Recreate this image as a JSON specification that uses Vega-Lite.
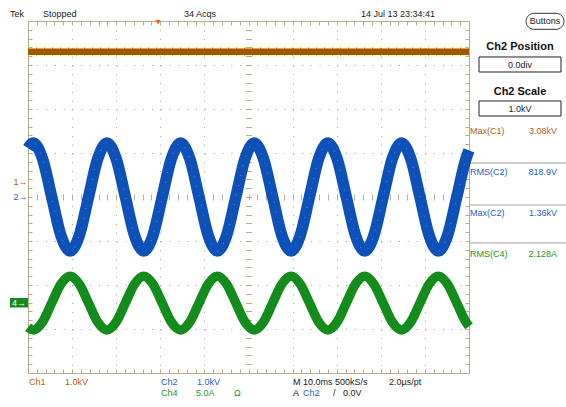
{
  "$schema": "https://vega.github.io/schema/vega-lite/v6.json",
  "width": 441,
  "height": 352,
  "autosize": {"type": "none"},
  "padding": {"left": 28, "top": 21, "right": 97, "bottom": 34},
  "background": "white",
  "config": {
    "view": {"stroke": "#b3ad8a", "strokeWidth": 1},
    "text": {"font": "Liberation Sans"},
    "axis": {"labels": false, "domain": false, "grid": false, "tickColor": "#b3ad8a", "tickWidth": 1}
  },
  "datasets": {
    "waves": [
      {"t": 0, "ch2": 1.11, "ch4": -2.96},
      {"t": 1.2, "ch2": 1.23, "ch4": -3.02},
      {"t": 3.29, "ch2": 0.87, "ch4": -2.84},
      {"t": 5.38, "ch2": 0, "ch4": -2.41},
      {"t": 7.46, "ch2": -0.87, "ch4": -1.98},
      {"t": 9.55, "ch2": -1.23, "ch4": -1.8},
      {"t": 11.64, "ch2": -0.87, "ch4": -1.98},
      {"t": 13.73, "ch2": 0, "ch4": -2.41},
      {"t": 15.81, "ch2": 0.87, "ch4": -2.84},
      {"t": 17.9, "ch2": 1.23, "ch4": -3.02},
      {"t": 19.99, "ch2": 0.87, "ch4": -2.84},
      {"t": 22.08, "ch2": 0, "ch4": -2.41},
      {"t": 24.16, "ch2": -0.87, "ch4": -1.98},
      {"t": 26.25, "ch2": -1.23, "ch4": -1.8},
      {"t": 28.34, "ch2": -0.87, "ch4": -1.98},
      {"t": 30.43, "ch2": 0, "ch4": -2.41},
      {"t": 32.51, "ch2": 0.87, "ch4": -2.84},
      {"t": 34.6, "ch2": 1.23, "ch4": -3.02},
      {"t": 36.69, "ch2": 0.87, "ch4": -2.84},
      {"t": 38.78, "ch2": 0, "ch4": -2.41},
      {"t": 40.86, "ch2": -0.87, "ch4": -1.98},
      {"t": 42.95, "ch2": -1.23, "ch4": -1.8},
      {"t": 45.04, "ch2": -0.87, "ch4": -1.98},
      {"t": 47.13, "ch2": 0, "ch4": -2.41},
      {"t": 49.21, "ch2": 0.87, "ch4": -2.84},
      {"t": 51.3, "ch2": 1.23, "ch4": -3.02},
      {"t": 53.39, "ch2": 0.87, "ch4": -2.84},
      {"t": 55.48, "ch2": 0, "ch4": -2.41},
      {"t": 57.56, "ch2": -0.87, "ch4": -1.98},
      {"t": 59.65, "ch2": -1.23, "ch4": -1.8},
      {"t": 61.74, "ch2": -0.87, "ch4": -1.98},
      {"t": 63.83, "ch2": 0, "ch4": -2.41},
      {"t": 65.91, "ch2": 0.87, "ch4": -2.84},
      {"t": 68.0, "ch2": 1.23, "ch4": -3.02},
      {"t": 70.09, "ch2": 0.87, "ch4": -2.84},
      {"t": 72.18, "ch2": 0, "ch4": -2.41},
      {"t": 74.26, "ch2": -0.87, "ch4": -1.98},
      {"t": 76.35, "ch2": -1.23, "ch4": -1.8},
      {"t": 78.44, "ch2": -0.87, "ch4": -1.98},
      {"t": 80.53, "ch2": 0, "ch4": -2.41},
      {"t": 82.61, "ch2": 0.87, "ch4": -2.84},
      {"t": 84.7, "ch2": 1.23, "ch4": -3.02},
      {"t": 86.79, "ch2": 0.87, "ch4": -2.84},
      {"t": 88.88, "ch2": 0, "ch4": -2.41},
      {"t": 90.96, "ch2": -0.87, "ch4": -1.98},
      {"t": 93.05, "ch2": -1.23, "ch4": -1.8},
      {"t": 95.14, "ch2": -0.87, "ch4": -1.98},
      {"t": 97.23, "ch2": 0, "ch4": -2.41},
      {"t": 99.31, "ch2": 0.87, "ch4": -2.84},
      {"t": 100, "ch2": 1.06, "ch4": -2.94}
    ],
    "ch1": [{"t": 0, "v": 3.3}, {"t": 100, "v": 3.3}],
    "seps": [{"v": 0.773}, {"v": -0.182}, {"v": -1.045}],
    "boxes": [
      {"t": 102.27, "t2": 120.86, "v": 3.182, "v2": 2.841},
      {"t": 102.27, "t2": 120.86, "v": 2.182, "v2": 1.841}
    ],
    "button": [{"t": 112.93, "t2": 121.54, "v": 4.175, "v2": 3.811}],
    "ch4box": [{"t": -4.08, "t2": 0, "v": -2.295, "v2": -2.511}],
    "trig": [{"t": 29.5, "v": 3.966}],
    "lblLeft": [
      {"text": "Tek", "t": -4.08, "v": 4.16, "g": "k"},
      {"text": "Stopped", "t": 3.4, "v": 4.16, "g": "k"},
      {"text": "34 Acqs", "t": 35.37, "v": 4.16, "g": "k"},
      {"text": "14 Jul 13 23:34:41", "t": 75.51, "v": 4.16, "g": "k"},
      {"text": "Ch1", "t": 0.23, "v": -4.205, "g": "o"},
      {"text": "1.0kV", "t": 8.39, "v": -4.205, "g": "o"},
      {"text": "Ch2", "t": 30.16, "v": -4.205, "g": "b"},
      {"text": "1.0kV", "t": 38.32, "v": -4.205, "g": "b"},
      {"text": "M 10.0ms 500kS/s", "t": 60.09, "v": -4.205, "g": "k"},
      {"text": "2.0µs/pt", "t": 81.86, "v": -4.205, "g": "k"},
      {"text": "Ch4", "t": 30.16, "v": -4.455, "g": "g"},
      {"text": "5.0A", "t": 38.1, "v": -4.455, "g": "g"},
      {"text": "Ω", "t": 46.71, "v": -4.455, "g": "g"},
      {"text": "A", "t": 60.09, "v": -4.455, "g": "k"},
      {"text": "Ch2", "t": 62.36, "v": -4.455, "g": "b"},
      {"text": "/", "t": 69.16, "v": -4.455, "g": "k"},
      {"text": "0.0V", "t": 71.43, "v": -4.455, "g": "k"},
      {"text": "Max(C1)", "t": 100.23, "v": 1.511, "g": "o"},
      {"text": "RMS(C2)", "t": 100.23, "v": 0.568, "g": "b"},
      {"text": "Max(C2)", "t": 100.23, "v": -0.364, "g": "b"},
      {"text": "RMS(C4)", "t": 100.23, "v": -1.295, "g": "g"}
    ],
    "lblRight": [
      {"text": "3.08kV", "t": 119.95, "v": 1.511, "g": "o"},
      {"text": "818.9V", "t": 119.95, "v": 0.568, "g": "b"},
      {"text": "1.36kV", "t": 119.95, "v": -0.364, "g": "b"},
      {"text": "2.128A", "t": 119.95, "v": -1.295, "g": "g"},
      {"text": "1→", "t": -0.11, "v": 0.334, "g": "o"},
      {"text": "2→", "t": -0.11, "v": 0, "g": "b"}
    ],
    "lblCenter": [
      {"text": "0.0div", "t": 111.56, "v": 3.0, "g": "k"},
      {"text": "1.0kV", "t": 111.56, "v": 2.0, "g": "k"},
      {"text": "Buttons", "t": 117.23, "v": 3.99, "g": "k"},
      {"text": "4→", "t": -2.04, "v": -2.41, "g": "w"}
    ],
    "lblBold": [
      {"text": "Ch2 Position", "t": 111.56, "v": 3.41},
      {"text": "Ch2 Scale", "t": 111.56, "v": 2.386}
    ]
  },
  "layer": [
    {
      "data": {"name": "ch1"},
      "mark": {"type": "point", "opacity": 0},
      "encoding": {
        "x": {"field": "t", "type": "quantitative", "scale": {"domain": [0, 100], "nice": false, "zero": false},
              "axis": {"orient": "bottom", "values": [10, 20, 30, 40, 60, 70, 80, 90], "grid": true, "ticks": false, "gridDash": [1, 7.8], "gridColor": "#a39f88", "gridWidth": 1, "title": null}},
        "y": {"field": "v", "type": "quantitative", "scale": {"domain": [-4, 4], "nice": false, "zero": false},
              "axis": {"orient": "left", "values": [-3, -2, -1, 1, 2, 3], "grid": true, "ticks": false, "gridDash": [1, 7.82], "gridColor": "#a39f88", "gridWidth": 1, "title": null}}
      }
    },
    {
      "data": {"name": "ch1"},
      "mark": {"type": "point", "opacity": 0},
      "encoding": {
        "x": {"field": "t", "type": "quantitative", "scale": {"domain": [0, 100], "nice": false, "zero": false},
              "axis": {"orient": "bottom", "offset": -352, "tickCount": 50, "tickSize": 4, "title": null}},
        "y": {"field": "v", "type": "quantitative", "scale": {"domain": [-4, 4], "nice": false, "zero": false},
              "axis": {"orient": "right", "offset": -441, "tickCount": 40, "tickSize": 4, "title": null}}
      }
    },
    {
      "data": {"name": "ch1"},
      "mark": {"type": "point", "opacity": 0},
      "encoding": {
        "x": {"field": "t", "type": "quantitative", "scale": {"domain": [0, 100], "nice": false, "zero": false},
              "axis": {"orient": "top", "offset": -352, "tickCount": 50, "tickSize": 4, "title": null}},
        "y": {"field": "v", "type": "quantitative", "scale": {"domain": [-4, 4], "nice": false, "zero": false},
              "axis": {"orient": "left", "offset": -441, "tickCount": 40, "tickSize": 4, "title": null}}
      }
    },
    {
      "data": {"name": "ch1"},
      "mark": {"type": "point", "opacity": 0},
      "encoding": {
        "x": {"field": "t", "type": "quantitative", "scale": {"domain": [0, 100], "nice": false, "zero": false},
              "axis": {"orient": "top", "offset": -176, "tickCount": 50, "tickSize": 3, "title": null}},
        "y": {"field": "v", "type": "quantitative", "scale": {"domain": [-4, 4], "nice": false, "zero": false},
              "axis": {"orient": "left", "offset": -220.5, "tickCount": 40, "tickSize": 3, "title": null}}
      }
    },
    {
      "data": {"name": "ch1"},
      "mark": {"type": "point", "opacity": 0},
      "encoding": {
        "x": {"field": "t", "type": "quantitative", "scale": {"domain": [0, 100], "nice": false, "zero": false},
              "axis": {"orient": "bottom", "offset": -176, "tickCount": 50, "tickSize": 3, "title": null}},
        "y": {"field": "v", "type": "quantitative", "scale": {"domain": [-4, 4], "nice": false, "zero": false},
              "axis": {"orient": "right", "offset": -220.5, "tickCount": 40, "tickSize": 3, "title": null}}
      }
    },
    {
      "mark": {"type": "rule", "color": "#b3ad8a", "strokeWidth": 1},
      "encoding": {"x": {"datum": 50, "type": "quantitative", "axis": null}}
    },
    {
      "mark": {"type": "rule", "color": "#b3ad8a", "strokeWidth": 1},
      "encoding": {"y": {"datum": 0, "type": "quantitative", "axis": null}}
    },
    {
      "data": {"name": "seps"},
      "mark": {"type": "rule", "color": "#a0a0a0", "strokeWidth": 1},
      "encoding": {
        "x": {"datum": 100, "type": "quantitative", "axis": null},
        "x2": {"datum": 122},
        "y": {"field": "v", "type": "quantitative", "axis": null}
      }
    },
    {
      "data": {"name": "ch1"},
      "mark": {"type": "line", "color": "#e2d400", "strokeWidth": 9.5, "strokeDash": [1, 7]},
      "encoding": {
        "x": {"field": "t", "type": "quantitative", "axis": null},
        "y": {"field": "v", "type": "quantitative", "axis": null}
      }
    },
    {
      "data": {"name": "ch1"},
      "mark": {"type": "line", "color": "#a55500", "strokeWidth": 6.5},
      "encoding": {
        "x": {"field": "t", "type": "quantitative", "axis": null},
        "y": {"field": "v", "type": "quantitative", "axis": null}
      }
    },
    {
      "data": {"name": "waves"},
      "mark": {"type": "line", "color": "#0c50b8", "strokeWidth": 11.5, "interpolate": "monotone"},
      "encoding": {
        "x": {"field": "t", "type": "quantitative", "axis": null},
        "y": {"field": "ch2", "type": "quantitative", "axis": null}
      }
    },
    {
      "data": {"name": "waves"},
      "mark": {"type": "line", "color": "#4fb0e8", "strokeWidth": 1, "strokeDash": [1, 9], "opacity": 0.7, "interpolate": "monotone"},
      "encoding": {
        "x": {"field": "t", "type": "quantitative", "axis": null},
        "y": {"field": "ch2", "type": "quantitative", "axis": null}
      }
    },
    {
      "data": {"name": "waves"},
      "mark": {"type": "line", "color": "#138c1c", "strokeWidth": 9.5, "interpolate": "monotone"},
      "encoding": {
        "x": {"field": "t", "type": "quantitative", "axis": null},
        "y": {"field": "ch4", "type": "quantitative", "axis": null}
      }
    },
    {
      "mark": {"type": "rule", "color": "#000000", "strokeWidth": 1.2},
      "encoding": {
        "x": {"datum": 100, "type": "quantitative", "axis": null},
        "y": {"datum": 4, "type": "quantitative", "axis": null},
        "y2": {"datum": -4.77}
      }
    },
    {
      "data": {"name": "boxes"},
      "mark": {"type": "rect", "fill": "white", "stroke": "#222222", "strokeWidth": 1},
      "encoding": {
        "x": {"field": "t", "type": "quantitative", "axis": null},
        "x2": {"field": "t2"},
        "y": {"field": "v", "type": "quantitative", "axis": null},
        "y2": {"field": "v2"}
      }
    },
    {
      "data": {"name": "button"},
      "mark": {"type": "rect", "fill": "white", "stroke": "#333333", "strokeWidth": 1, "cornerRadius": 8},
      "encoding": {
        "x": {"field": "t", "type": "quantitative", "axis": null},
        "x2": {"field": "t2"},
        "y": {"field": "v", "type": "quantitative", "axis": null},
        "y2": {"field": "v2"}
      }
    },
    {
      "data": {"name": "ch4box"},
      "mark": {"type": "rect", "fill": "#168a1c"},
      "encoding": {
        "x": {"field": "t", "type": "quantitative", "axis": null},
        "x2": {"field": "t2"},
        "y": {"field": "v", "type": "quantitative", "axis": null},
        "y2": {"field": "v2"}
      }
    },
    {
      "data": {"name": "trig"},
      "mark": {"type": "point", "shape": "triangle-down", "filled": true, "color": "#f06a1e", "size": 30, "opacity": 1},
      "encoding": {
        "x": {"field": "t", "type": "quantitative", "axis": null},
        "y": {"field": "v", "type": "quantitative", "axis": null}
      }
    },
    {
      "data": {"name": "lblLeft"},
      "mark": {"type": "text", "align": "left", "baseline": "middle", "fontSize": 9},
      "encoding": {
        "x": {"field": "t", "type": "quantitative", "axis": null},
        "y": {"field": "v", "type": "quantitative", "axis": null},
        "text": {"field": "text"},
        "color": {"field": "g", "type": "nominal", "legend": null,
                  "scale": {"domain": ["k", "o", "b", "g", "w"], "range": ["#1a1a1a", "#b0601c", "#2860c4", "#1f9127", "#ffffff"]}}
      }
    },
    {
      "data": {"name": "lblRight"},
      "mark": {"type": "text", "align": "right", "baseline": "middle", "fontSize": 9},
      "encoding": {
        "x": {"field": "t", "type": "quantitative", "axis": null},
        "y": {"field": "v", "type": "quantitative", "axis": null},
        "text": {"field": "text"},
        "color": {"field": "g", "type": "nominal", "legend": null}
      }
    },
    {
      "data": {"name": "lblCenter"},
      "mark": {"type": "text", "align": "center", "baseline": "middle", "fontSize": 9},
      "encoding": {
        "x": {"field": "t", "type": "quantitative", "axis": null},
        "y": {"field": "v", "type": "quantitative", "axis": null},
        "text": {"field": "text"},
        "color": {"field": "g", "type": "nominal", "legend": null}
      }
    },
    {
      "data": {"name": "lblBold"},
      "mark": {"type": "text", "align": "center", "baseline": "middle", "fontSize": 11, "fontWeight": "bold", "color": "#111111"},
      "encoding": {
        "x": {"field": "t", "type": "quantitative", "axis": null},
        "y": {"field": "v", "type": "quantitative", "axis": null},
        "text": {"field": "text"}
      }
    }
  ],
  "resolve": {
    "scale": {"x": "shared", "y": "shared"},
    "axis": {"x": "independent", "y": "independent"}
  }
}
